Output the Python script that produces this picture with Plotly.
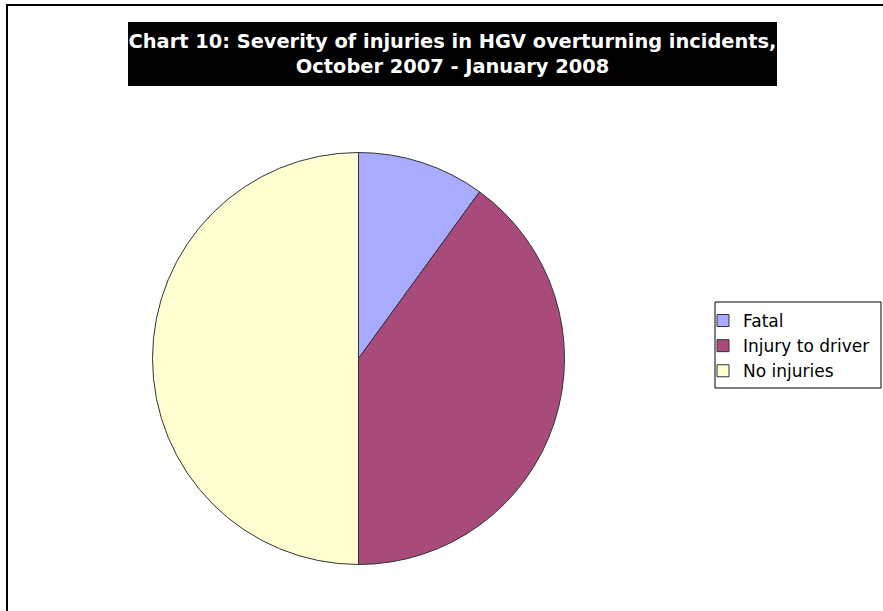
import plotly.graph_objects as go

# Severity of injuries, HGV overturning incidents (Oct 2007 - Jan 2008)
severity = ["Fatal", "Injury to driver", "No injuries"]
incidents = [2, 8, 10]
slice_colors = ["#A8ABFF", "#A84B7B", "#FFFFD2"]

W, H = 883, 611


def px_x(v):
    return v / W


def px_y(v):
    return 1 - v / H


fig = go.Figure(go.Pie(
    labels=severity,
    values=incidents,
    sort=False,
    direction="clockwise",
    rotation=0,
    textinfo="none",
    hoverinfo="label+value+percent",
    marker=dict(colors=slice_colors, line=dict(color="#333333", width=1)),
    domain=dict(x=[px_x(152.5), px_x(564.5)], y=[px_y(564.5), px_y(152.5)]),
))

fig.update_layout(
    width=W,
    height=H,
    margin=dict(l=0, r=0, t=0, b=0),
    paper_bgcolor="white",
    plot_bgcolor="white",
    font=dict(family="DejaVu Sans, Arial, sans-serif", color="black"),
    showlegend=True,
    legend=dict(
        x=px_x(703), xanchor="left",
        y=px_y(303), yanchor="top",
        font=dict(size=17, family="DejaVu Sans, Arial, sans-serif"),
        bgcolor="rgba(0,0,0,0)",
        borderwidth=0,
        tracegroupgap=0,
    ),
    annotations=[dict(
        text="<b>Chart 10: Severity of injuries in HGV overturning incidents,<br>"
             "October 2007 - January 2008</b>",
        xref="paper", yref="paper",
        x=px_x(452.5), y=px_y(54),
        xanchor="center", yanchor="middle",
        showarrow=False,
        font=dict(size=19.4, color="white", family="DejaVu Sans, Arial, sans-serif"),
        bgcolor="black",
        width=649, height=64,
        borderpad=0, borderwidth=0,
    )],
    shapes=[
        # outer chart frame (right/bottom edges run off the page)
        dict(type="rect", xref="paper", yref="paper",
             x0=px_x(7), x1=px_x(895), y0=px_y(5), y1=px_y(620),
             line=dict(color="black", width=2)),
        # legend box
        dict(type="rect", xref="paper", yref="paper",
             x0=px_x(715), x1=px_x(881), y0=px_y(302), y1=px_y(388),
             line=dict(color="black", width=1)),
    ],
)

# drop the browser's default body margin so the figure sits at (0, 0)
fig.write_html(
    "out.html",
    config={"displayModeBar": False},
    post_script="document.body.style.margin = '0';",
)
